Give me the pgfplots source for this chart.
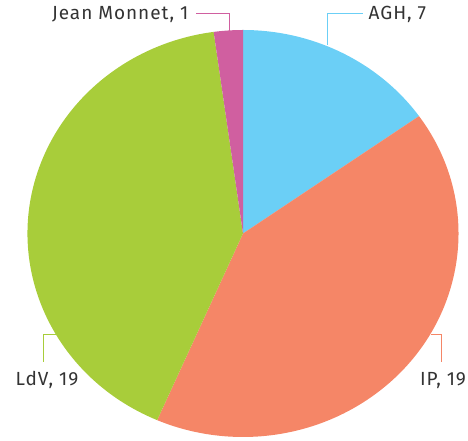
\documentclass[border=0pt]{standalone}
\usepackage{pgfplots}
\usepackage{pgfplotstable}
\usepackage{fontspec}
\setmainfont{Fira Sans}
\newfontfamily\labfont[LetterSpace=5]{Fira Sans}
\pgfplotsset{compat=1.18}
\definecolor{cAGH}{HTML}{6BCFF6}
\definecolor{cIP}{HTML}{F58667}
\definecolor{cLdV}{HTML}{A8CD3A}
\definecolor{cJM}{HTML}{D05FA0}
\definecolor{txt}{HTML}{333333}
\pgfplotstableread{
label value color
AGH 7 cAGH
IP 19 cIP
LdV 19 cLdV
JM 1 cJM
}\piedata
\begin{document}
\begin{tikzpicture}
\begin{axis}[
  at={(0pt,0pt)}, anchor=south west,
  scale only axis, width=468pt, height=441pt,
  xmin=0, xmax=468, ymin=0, ymax=441,
  hide axis, clip=false,
]
\def\cx{243}\def\cy{207.5}\def\rx{215.5}\def\ry{203.5}%
\def\total{46}%
\def\cum{0}%
\pgfplotstablegetrowsof{\piedata}%
\pgfmathtruncatemacro{\nrows}{\pgfplotsretval-1}%
\pgfplotsforeachungrouped \i in {0,...,\nrows}{%
  \pgfplotstablegetelem{\i}{value}\of{\piedata}\let\val\pgfplotsretval
  \pgfplotstablegetelem{\i}{color}\of{\piedata}\let\col\pgfplotsretval
  \pgfmathsetmacro{\a}{90-\cum/\total*360}%
  \pgfmathsetmacro{\b}{90-(\cum+\val)/\total*360}%
  \pgfmathsetmacro{\sx}{\rx*cos(\a)}%
  \pgfmathsetmacro{\sy}{\ry*sin(\a)}%
  \edef\doslice{\noexpand\fill[\col] (axis cs:\cx+\sx,\cy+\sy) arc[start angle=\a, end angle=\b, x radius=\rx pt, y radius=\ry pt] -- (axis cs:\cx,\cy) -- cycle;}%
  \doslice
  \pgfmathsetmacro{\cum}{\cum+\val}%
}%
% leader lines
\draw[cAGH, line width=1pt] (axis cs:327,396) -- (axis cs:327,427) -- (axis cs:363,427);
\draw[cJM, line width=1pt] (axis cs:229,410) -- (axis cs:229,427) -- (axis cs:196,427);
\draw[cLdV, line width=1pt] (axis cs:56,106) -- (axis cs:43,106) -- (axis cs:43,79);
\draw[cIP, line width=1pt] (axis cs:431,106) -- (axis cs:441,106) -- (axis cs:441,79);
\tikzset{lab/.style={text=txt, font=\labfont\fontsize{19}{22}\selectfont, inner sep=0pt}}
\node[lab, anchor=base west] at (axis cs:368.5,421.5) {AGH, 7};
\node[lab, anchor=base east] at (axis cs:188.5,421.5) {Jean Monnet, 1};
\node[lab, anchor=base] at (axis cs:47,55.5) {LdV, 19};
\node[lab, anchor=base] at (axis cs:443,55.5) {IP, 19};
\end{axis}
\pgfresetboundingbox
\useasboundingbox (0pt,0pt) rectangle (468pt,441pt);
\end{tikzpicture}
\end{document}
